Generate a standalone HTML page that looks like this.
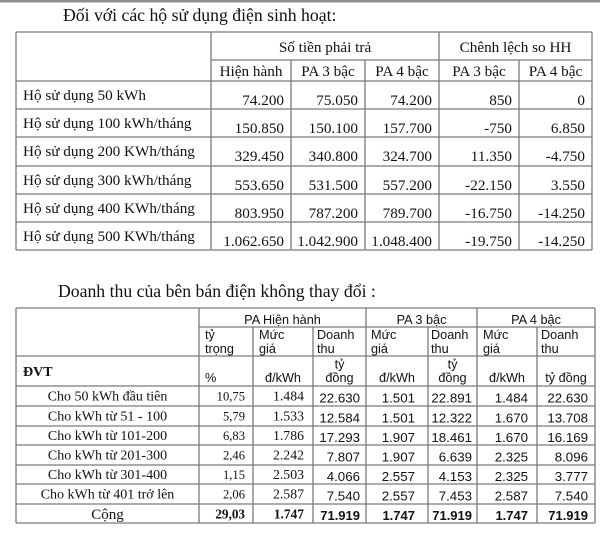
<!DOCTYPE html>
<html>
<head>
<meta charset="utf-8">
<style>
html,body{margin:0;padding:0;background:#fff;}
svg{display:block;}
.t{font-family:"Liberation Serif","Times New Roman",serif;fill:#111;}
.a{font-family:"Liberation Sans",Arial,sans-serif;fill:#111;}
</style>
</head>
<body>
<svg width="600" height="546" viewBox="0 0 600 546" xmlns="http://www.w3.org/2000/svg">
<rect x="0" y="0" width="600" height="546" fill="#fff"/>
<rect x="0" y="0" width="600" height="2.5" fill="#8c8c8c"/>

<!-- Title 1 -->
<text class="t" x="63" y="21" font-size="17.7">Đối với các hộ sử dụng điện sinh hoạt:</text>

<!-- Table 1 lines -->
<g stroke="#7a7a7a" stroke-width="1.3" fill="none">
  <line x1="16" y1="32" x2="592" y2="32"/>
  <line x1="211" y1="60" x2="592" y2="60"/>
  <line x1="16" y1="81" x2="592" y2="81"/>
  <line x1="16" y1="109" x2="592" y2="109"/>
  <line x1="16" y1="137" x2="592" y2="137"/>
  <line x1="16" y1="166" x2="592" y2="166"/>
  <line x1="16" y1="194" x2="592" y2="194"/>
  <line x1="16" y1="222" x2="592" y2="222"/>
  <line x1="16" y1="250" x2="592" y2="250"/>
  <line x1="16" y1="32" x2="16" y2="250"/>
  <line x1="211" y1="32" x2="211" y2="250"/>
  <line x1="291" y1="60" x2="291" y2="250"/>
  <line x1="365" y1="60" x2="365" y2="250"/>
  <line x1="439" y1="32" x2="439" y2="250"/>
  <line x1="519" y1="60" x2="519" y2="250"/>
  <line x1="592" y1="32" x2="592" y2="250"/>
</g>

<g class="t" font-size="15.2">
  <text x="325" y="52" text-anchor="middle">Số tiền phải trả</text>
  <text x="515.5" y="52" text-anchor="middle">Chênh lệch so HH</text>
  <text x="251" y="76" text-anchor="middle">Hiện hành</text>
  <text x="328" y="76" text-anchor="middle">PA 3 bậc</text>
  <text x="402" y="76" text-anchor="middle">PA 4 bậc</text>
  <text x="479" y="76" text-anchor="middle">PA 3 bậc</text>
  <text x="555.5" y="76" text-anchor="middle">PA 4 bậc</text>

  <text x="23" y="100">Hộ sử dụng 50 kWh</text>
  <text x="23" y="128">Hộ sử dụng 100 kWh/tháng</text>
  <text x="23" y="156">Hộ sử dụng 200 KWh/tháng</text>
  <text x="23" y="185">Hộ sử dụng 300 kWh/tháng</text>
  <text x="23" y="213">Hộ sử dụng 400 KWh/tháng</text>
  <text x="23" y="241">Hộ sử dụng 500 KWh/tháng</text>
</g>
<g class="t" font-size="15.2" text-anchor="end">
  <text x="284" y="105">74.200</text><text x="358" y="105">75.050</text><text x="432" y="105">74.200</text><text x="512" y="105">850</text><text x="585" y="105">0</text>
  <text x="284" y="133">150.850</text><text x="358" y="133">150.100</text><text x="432" y="133">157.700</text><text x="512" y="133">-750</text><text x="585" y="133">6.850</text>
  <text x="284" y="161">329.450</text><text x="358" y="161">340.800</text><text x="432" y="161">324.700</text><text x="512" y="161">11.350</text><text x="585" y="161">-4.750</text>
  <text x="284" y="190">553.650</text><text x="358" y="190">531.500</text><text x="432" y="190">557.200</text><text x="512" y="190">-22.150</text><text x="585" y="190">3.550</text>
  <text x="284" y="218">803.950</text><text x="358" y="218">787.200</text><text x="432" y="218">789.700</text><text x="512" y="218">-16.750</text><text x="585" y="218">-14.250</text>
  <text x="284" y="246">1.062.650</text><text x="358" y="246">1.042.900</text><text x="432" y="246">1.048.400</text><text x="512" y="246">-19.750</text><text x="585" y="246">-14.250</text>
</g>

<!-- Title 2 -->
<text class="t" x="58" y="297" font-size="17.7">Doanh thu của bên bán điện không thay đổi :</text>

<!-- Table 2 lines -->
<g stroke="#7a7a7a" stroke-width="1.3" fill="none">
  <line x1="16" y1="308" x2="595" y2="308"/>
  <line x1="199" y1="327" x2="595" y2="327"/>
  <line x1="16" y1="356" x2="595" y2="356"/>
  <line x1="16" y1="386" x2="595" y2="386"/>
  <line x1="16" y1="406" x2="595" y2="406"/>
  <line x1="16" y1="426" x2="595" y2="426"/>
  <line x1="16" y1="445" x2="595" y2="445"/>
  <line x1="16" y1="465" x2="595" y2="465"/>
  <line x1="16" y1="484" x2="595" y2="484"/>
  <line x1="16" y1="504" x2="595" y2="504"/>
  <line x1="16" y1="523" x2="595" y2="523"/>
  <line x1="16" y1="308" x2="16" y2="523"/>
  <line x1="199" y1="308" x2="199" y2="523"/>
  <line x1="253" y1="327" x2="253" y2="523"/>
  <line x1="313" y1="327" x2="313" y2="523"/>
  <line x1="366" y1="308" x2="366" y2="523"/>
  <line x1="428" y1="327" x2="428" y2="523"/>
  <line x1="477" y1="308" x2="477" y2="523"/>
  <line x1="537" y1="327" x2="537" y2="523"/>
  <line x1="595" y1="308" x2="595" y2="523"/>
</g>

<g class="a" font-size="12.7">
  <text x="282.5" y="324" text-anchor="middle">PA Hiện hành</text>
  <text x="421.5" y="324" text-anchor="middle">PA 3 bậc</text>
  <text x="536" y="324" text-anchor="middle">PA 4 bậc</text>

  <text x="205" y="339">tỷ</text><text x="205" y="353">trọng</text>
  <text x="259" y="339">Mức</text><text x="259" y="353">giá</text>
  <text x="317" y="339">Doanh</text><text x="317" y="353">thu</text>
  <text x="371" y="339">Mức</text><text x="371" y="353">giá</text>
  <text x="431" y="339">Doanh</text><text x="431" y="353">thu</text>
  <text x="483" y="339">Mức</text><text x="483" y="353">giá</text>
  <text x="541" y="339">Doanh</text><text x="541" y="353">thu</text>

  <text x="205" y="382">%</text>
  <text x="283" y="382" text-anchor="middle">đ/kWh</text>
  <text x="339.5" y="368.5" text-anchor="middle">tỷ</text>
  <text x="339.5" y="382" text-anchor="middle">đồng</text>
  <text x="397" y="382" text-anchor="middle">đ/kWh</text>
  <text x="452.5" y="368.5" text-anchor="middle">tỷ</text>
  <text x="452.5" y="382" text-anchor="middle">đồng</text>
  <text x="507" y="382" text-anchor="middle">đ/kWh</text>
  <text x="566" y="382" text-anchor="middle">tỷ đồng</text>
</g>

<text class="t" x="23" y="376" font-size="14" font-weight="bold">ĐVT</text>

<!-- Table 2 labels -->
<g class="t" font-size="14" text-anchor="middle">
  <text x="107.5" y="400.5">Cho 50 kWh đầu tiên</text>
  <text x="107.5" y="420.5">Cho kWh từ 51 - 100</text>
  <text x="107.5" y="440">Cho kWh từ 101-200</text>
  <text x="107.5" y="459.5">Cho kWh từ 201-300</text>
  <text x="107.5" y="479">Cho kWh từ 301-400</text>
  <text x="107.5" y="498.5">Cho kWh từ 401 trở lên</text>
  <text x="107.5" y="519" font-size="15">Cộng</text>
</g>

<!-- tỷ trọng (Times small) -->
<g class="t" font-size="12.6" text-anchor="end">
  <text x="245" y="400.5">10,75</text>
  <text x="245" y="420.5">5,79</text>
  <text x="245" y="440">6,83</text>
  <text x="245" y="459.5">2,46</text>
  <text x="245" y="479">1,15</text>
  <text x="245" y="498.5">2,06</text>
  <text x="245" y="518.5" font-weight="bold" font-size="13.2">29,03</text>
</g>
<!-- Mức giá HH (Times) -->
<g class="t" font-size="13.8" text-anchor="end">
  <text x="304" y="400.5">1.484</text>
  <text x="304" y="420.5">1.533</text>
  <text x="304" y="440">1.786</text>
  <text x="304" y="459.5">2.242</text>
  <text x="304" y="479">2.503</text>
  <text x="304" y="498.5">2.587</text>
  <text x="304" y="518.5" font-weight="bold" font-size="13.4">1.747</text>
</g>
<!-- Arial numbers -->
<g class="a" font-size="13.3" text-anchor="end">
  <text x="360" y="402.5">22.630</text><text x="415" y="402.5">1.501</text><text x="472" y="402.5">22.891</text><text x="528" y="402.5">1.484</text><text x="588" y="402.5">22.630</text>
  <text x="360" y="422.5">12.584</text><text x="415" y="422.5">1.501</text><text x="472" y="422.5">12.322</text><text x="528" y="422.5">1.670</text><text x="588" y="422.5">13.708</text>
  <text x="360" y="442">17.293</text><text x="415" y="442">1.907</text><text x="472" y="442">18.461</text><text x="528" y="442">1.670</text><text x="588" y="442">16.169</text>
  <text x="360" y="461.5">7.807</text><text x="415" y="461.5">1.907</text><text x="472" y="461.5">6.639</text><text x="528" y="461.5">2.325</text><text x="588" y="461.5">8.096</text>
  <text x="360" y="481">4.066</text><text x="415" y="481">2.557</text><text x="472" y="481">4.153</text><text x="528" y="481">2.325</text><text x="588" y="481">3.777</text>
  <text x="360" y="500.5">7.540</text><text x="415" y="500.5">2.557</text><text x="472" y="500.5">7.453</text><text x="528" y="500.5">2.587</text><text x="588" y="500.5">7.540</text>
  <g font-weight="bold" font-size="13">
    <text x="360" y="520">71.919</text><text x="415" y="520">1.747</text><text x="472" y="520">71.919</text><text x="528" y="520">1.747</text><text x="588" y="520">71.919</text>
  </g>
</g>
</svg>
</body>
</html>
